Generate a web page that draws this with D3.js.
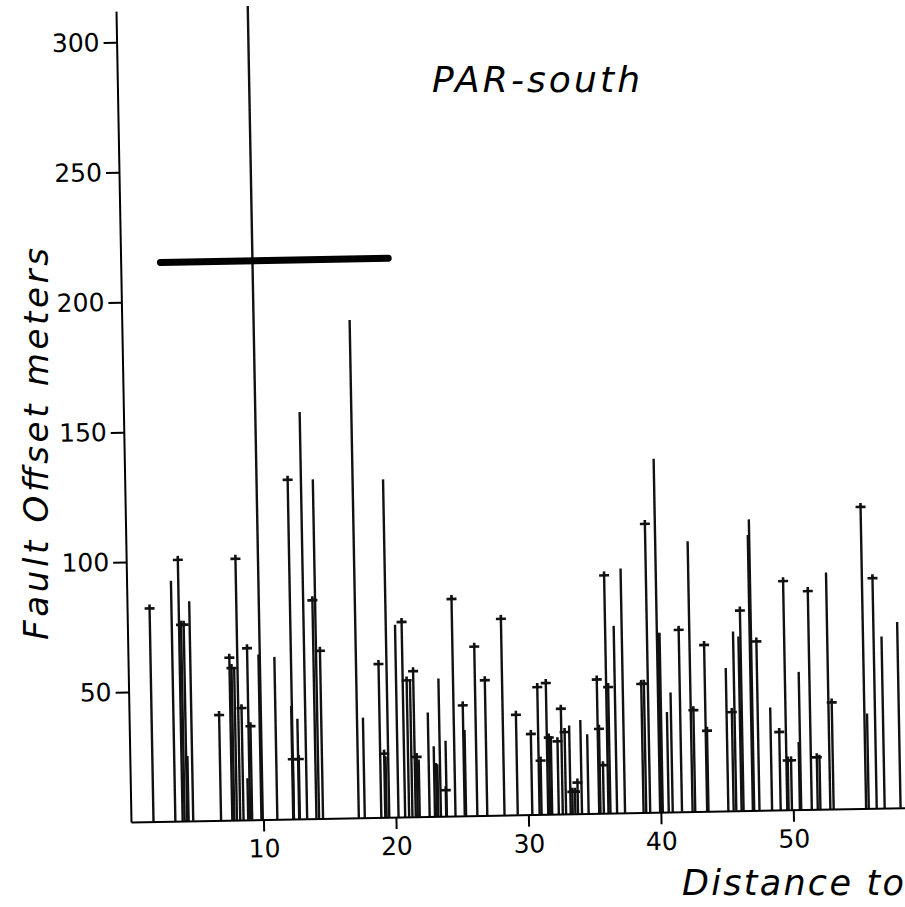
<!DOCTYPE html>
<html>
<head>
<meta charset="utf-8">
<script src="https://cdn.jsdelivr.net/npm/d3@7"></script>
<style>
  body { margin: 0; background: #fff; }
  svg { display: block; font-family: 'DejaVu Sans', sans-serif; }
  .axis path, .axis line { stroke: #000; stroke-width: 2; }
  .stem { stroke: #111; stroke-width: 2.4; }
  .mark { stroke: #111; stroke-width: 2.6; fill: none; }
  .label { font-style: italic; fill: #000; }
</style>
</head>
<body>
<svg id="chart" width="905" height="907"></svg>
<script>
// distance (along strike) of each fault, its offset in meters, and whether it carries a "+" tip
const distances = [
  1.7, 3.35, 3.9, 4.05, 4.25, 4.35, 4.7, 6.8, 7.65, 7.8, 8.0, 8.25, 8.5, 8.85, 9.0, 9.15,
  9.95, 9.85, 11.05, 12.3, 12.25, 12.3, 12.7, 12.75, 13.3, 14.0, 14.2, 14.5, 17.2, 17.65,
  18.9, 19.2, 19.3, 19.5, 20.2, 20.7, 21.0, 21.25, 21.5, 21.65, 21.8, 22.55, 22.95, 23.1,
  23.2, 23.4, 23.8, 23.85, 24.5, 25.2, 25.3, 26.15, 26.9, 28.2, 29.2, 30.3, 30.85, 31.0,
  31.5, 31.65, 31.8, 32.3, 32.6, 32.85, 33.2, 33.35, 33.55, 33.75, 34.05, 34.55, 35.35,
  35.45, 35.7, 36.05, 36.2, 36.7, 37.3, 38.7, 38.9, 39.2, 39.95, 40.05, 40.15, 40.6, 40.9,
  41.6, 42.4, 42.6, 43.5, 43.6, 45.1, 45.5, 45.7, 46.1, 46.25, 46.95, 47.05, 47.45, 48.4,
  49.05, 49.55, 49.65, 49.9, 50.5, 50.6, 51.4, 51.85, 52.05, 52.8, 53.05, 55.5, 55.7,
  56.3, 56.9, 58.1
];
const offsets = [
  82, 92.5, 100.5, 75.5, 75.5, 25, 84.5, 40.5, 62.5, 58.5, 58.5, 100.5, 43, 16, 66, 36,
  313, 63.5, 62.5, 130.5, 43.5, 23, 38.5, 23, 156.5, 84, 130.5, 64.5, 191.5, 38.5,
  59, 24.5, 23.5, 130, 74, 75, 52.5, 52.5, 56, 23, 22, 40, 27, 20.5,
  20, 53, 10, 29, 83.5, 42.5, 33, 65, 52, 75.5, 38.5, 31, 49, 20.7,
  50.5, 29.5, 30, 28, 40.5, 31.5, 34, 8.5, 8.5, 12, 36, 30.5, 51.5,
  32.5, 18.5, 91.5, 48.5, 72, 94, 49.5, 49.5, 111, 136, 69, 69, 38.5, 46,
  70, 104, 39, 64, 31, 55, 38, 69, 67, 77, 106, 112, 65, 39.5,
  30, 88, 19, 19, 26, 53, 84, 20, 21, 91, 41, 116, 36.5,
  88.5, 66, 71.5
];
const marked = [
  1, 0, 1, 1, 1, 0, 0, 1, 1, 1, 0, 1, 1, 0, 1, 1,
  0, 0, 0, 1, 0, 1, 0, 1, 0, 1, 0, 1, 0, 0,
  1, 1, 0, 0, 0, 1, 1, 0, 1, 1, 0, 0, 0, 0,
  0, 0, 1, 0, 1, 1, 0, 1, 1, 1, 1, 1, 1, 1,
  1, 1, 0, 1, 1, 1, 0, 1, 1, 1, 0, 0, 1,
  1, 1, 1, 1, 0, 0, 1, 1, 1, 0, 0, 0, 0, 0,
  1, 0, 1, 1, 1, 0, 1, 0, 0, 1, 0, 0, 1, 0,
  1, 1, 1, 1, 0, 0, 1, 1, 0, 0, 1, 1, 0,
  1, 0, 0
];
const yTicks = [50, 100, 150, 200, 250, 300];
const xTicks = [10, 20, 30, 40, 50];
// thick horizontal bar: distance span and offset level
const barSpan = [3.0, 20.2];
const barOffset = 215;

const svg = d3.select('#chart');

const x = d3.scaleLinear().domain([0, 58.5]).range([131, 906]);
const y = d3.scaleLinear().domain([0, 312]).range([822, 11]);

// the original sheet sits a little skewed, so the plot is turned about its origin
const plot = svg.append('g')
  .attr('transform', 'rotate(-1.06,' + x(0) + ',' + y(0) + ')');

const faults = distances.map((d, i) => ({ d: d, v: offsets[i], m: marked[i] }));

// stems
plot.append('g')
  .selectAll('line')
  .data(faults)
  .enter()
  .append('line')
  .attr('class', 'stem')
  .attr('x1', (f) => x(f.d))
  .attr('x2', (f) => x(f.d))
  .attr('y1', y(0))
  .attr('y2', (f) => y(f.v));

// little "+" tips
plot.append('g')
  .selectAll('path')
  .data(faults.filter((f) => f.m))
  .enter()
  .append('path')
  .attr('class', 'mark')
  .attr('d', (f) => {
    let px = x(f.d), py = y(f.v);
    return 'M' + (px - 5) + ',' + py + 'H' + (px + 5) + 'M' + px + ',' + (py - 4) + 'V' + py;
  });

// thick bar
plot.append('line')
  .attr('x1', x(barSpan[0]))
  .attr('x2', x(barSpan[1]))
  .attr('y1', y(barOffset))
  .attr('y2', y(barOffset))
  .attr('stroke', '#000')
  .attr('stroke-width', 7)
  .attr('stroke-linecap', 'round');

// axes
let yAxis = plot.append('g')
  .attr('class', 'axis')
  .attr('transform', 'translate(' + x(0) + ',0)')
  .call(d3.axisLeft(y).tickValues(yTicks).tickSize(13).tickSizeOuter(0).tickPadding(4).tickFormat(d3.format('d')));

let xAxis = plot.append('g')
  .attr('class', 'axis')
  .attr('transform', 'translate(0,' + y(0) + ')')
  .call(d3.axisBottom(x).tickValues(xTicks).tickSize(12).tickSizeOuter(0).tickPadding(8).tickFormat(d3.format('d')));

[yAxis, xAxis].forEach((g) => g.selectAll('text')
  .style('font-family', "'DejaVu Sans', sans-serif")
  .style('font-size', '25px')
  .attr('fill', '#000'));

// texts
svg.append('text')
  .attr('class', 'label')
  .attr('x', 432)
  .attr('y', 92)
  .attr('font-size', 36)
  .attr('textLength', 208)
  .attr('lengthAdjust', 'spacing')
  .text('PAR-south');

svg.append('text')
  .attr('class', 'label')
  .attr('transform', 'translate(48,444) rotate(-90)')
  .attr('text-anchor', 'middle')
  .attr('font-size', 34)
  .attr('textLength', 392)
  .attr('lengthAdjust', 'spacing')
  .text('Fault Offset  meters');

svg.append('text')
  .attr('class', 'label')
  .attr('x', 682)
  .attr('y', 895)
  .attr('font-size', 35)
  .attr('textLength', 222)
  .attr('lengthAdjust', 'spacing')
  .text('Distance to');
</script>
</body>
</html>
